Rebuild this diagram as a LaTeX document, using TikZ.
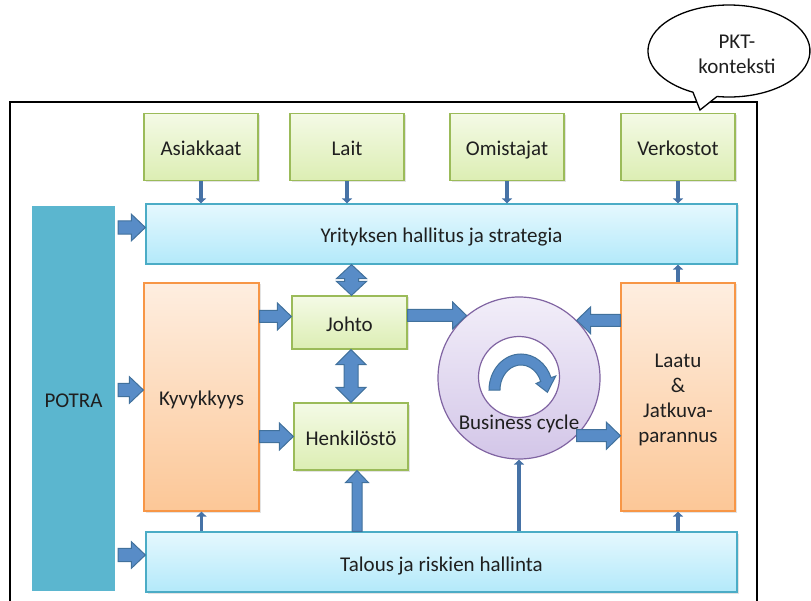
\documentclass[tikz,border=0pt]{standalone}
\usepackage{fontspec}
\setmainfont{Carlito}
\usetikzlibrary{arrows.meta,shadows,calc}

\definecolor{greentop}{HTML}{F4FAE6}
\definecolor{greenbot}{HTML}{DCEEB3}
\definecolor{greenline}{HTML}{9BBB59}
\definecolor{bluetop}{HTML}{E5F8FE}
\definecolor{bluebot}{HTML}{B3E9FA}
\definecolor{blueline}{HTML}{4BACC6}
\definecolor{orangetop}{HTML}{FEEEE0}
\definecolor{orangebot}{HTML}{FCC797}
\definecolor{orangeline}{HTML}{F79646}
\definecolor{purpletop}{HTML}{F2EEF9}
\definecolor{purplebot}{HTML}{D3C6E8}
\definecolor{purpleline}{HTML}{8064A2}
\definecolor{potrafill}{HTML}{5BB6CF}
\definecolor{arrowfill}{HTML}{588CC7}
\definecolor{arrowline}{HTML}{41719C}
\definecolor{thinblue}{HTML}{4672A6}

\tikzset{
  lbl/.style={font=\fontsize{21}{25}\selectfont, text=black!88, align=center},
  oneline/.style={text height=22pt, text depth=4pt},
  box/.style={lbl, rectangle, line width=1.2pt, inner sep=0pt,
    drop shadow={opacity=0.22, shadow xshift=1.5pt, shadow yshift=-1.5pt}},
  greenbox/.style={box, oneline, draw=greenline, top color=greentop, bottom color=greenbot},
  bluebox/.style={box, oneline, draw=blueline, top color=bluetop, bottom color=bluebot},
  orangebox/.style={box, draw=orangeline, top color=orangetop, bottom color=orangebot},
  blockarrow/.style={fill=arrowfill, draw=arrowline, line width=1pt, line join=miter},
  thinarrow/.style={draw=thinblue, line width=3.5pt, -{Triangle[width=10pt,length=5pt]}},
}

% horizontal block arrow: tail at x of #1, tip at #2 (height of #2 used);
% #3 shaft half-height, #4 head half-height, #5 signed head length
\newcommand\hblock[5]{%
  \draw[blockarrow] let \p1=(#1), \p2=(#2) in
    (\x1,\y2+#3) -- ({\x2-(#5)},\y2+#3) -- ({\x2-(#5)},\y2+#4) -- (\x2,\y2)
    -- ({\x2-(#5)},\y2-#4) -- ({\x2-(#5)},\y2-#3) -- (\x1,\y2-#3) -- cycle;}
% vertical block arrow: tail at y of #1, tip at #2 (x of #2 used)
\newcommand\vblock[5]{%
  \draw[blockarrow] let \p1=(#1), \p2=(#2) in
    (\x2+#3,\y1) -- (\x2+#3,{\y2-(#5)}) -- (\x2+#4,{\y2-(#5)}) -- (\x2,\y2)
    -- (\x2-#4,{\y2-(#5)}) -- (\x2-#3,{\y2-(#5)}) -- (\x2-#3,\y1) -- cycle;}
% vertical double-headed block arrow between an upper point #1 and a lower point #2
\newcommand\vdblock[5]{%
  \draw[blockarrow] let \p1=(#1), \p2=(#2) in
    (\x2,\y1) -- (\x2+#4,\y1-#5) -- (\x2+#3,\y1-#5) -- (\x2+#3,\y2+#5)
    -- (\x2+#4,\y2+#5) -- (\x2,\y2) -- (\x2-#4,\y2+#5) -- (\x2-#3,\y2+#5)
    -- (\x2-#3,\y1-#5) -- (\x2-#4,\y1-#5) -- cycle;}

\begin{document}
\begin{tikzpicture}[x=1pt,y=-1pt]
\useasboundingbox (0,0) rectangle (811,601);

% outer frame
\draw[line width=1.6pt] (10,102) rectangle (757,640);

% speech bubble
\draw[line width=1.3pt, fill=white]
  (717,96.5) arc[start angle=98.5, end angle=-243.6, x radius=81, y radius=46]
  -- (700,110) -- cycle;
\node[lbl] (pkt) at (737,54.5) {PKT-\\konteksti};

% stakeholder boxes
\node[greenbox, minimum width=114pt, minimum height=67pt] (asi) at (201,147) {Asiakkaat};
\node[greenbox, minimum width=114pt, minimum height=67pt] (lait) at (347,147) {Lait};
\node[greenbox, minimum width=114pt, minimum height=67pt] (omi) at (507,147) {Omistajat};
\node[greenbox, minimum width=114pt, minimum height=67pt] (verk) at (678,147) {Verkostot};

% wide bands
\node[bluebox, minimum width=591pt, minimum height=60pt] (yrit) at (441.5,234) {Yrityksen hallitus ja strategia};
\node[bluebox, minimum width=591pt, minimum height=60pt] (tal) at (441.5,562) {Talous ja riskien hallinta};

% side column
\node[lbl, oneline, rectangle, fill=potrafill, draw=white, line width=3pt, minimum width=86pt, minimum height=388pt,
  drop shadow={opacity=0.25, shadow xshift=1.5pt, shadow yshift=-1.5pt}] (potra) at (73.5,398.5) {POTRA};

% tall boxes
\node[orangebox, oneline, minimum width=115pt, minimum height=228pt] (kyv) at (201.5,397) {Kyvykkyys};
\node[orangebox, minimum width=114pt, minimum height=228pt] (laatu) at (678,397)
  {\raisebox{-3pt}[\height][\depth]{\begin{tabular}{@{}c@{}}Laatu\\\&\\Jatkuva-\\parannus\end{tabular}}};

% inner boxes
\node[greenbox, minimum width=115pt, minimum height=53pt] (johto) at (349.5,322.5) {Johto};
\node[greenbox, minimum width=114pt, minimum height=67pt] (henk) at (351,436.5) {Henkilöstö};

% business cycle ring
\node[circle, draw=purpleline, line width=1.2pt, top color=purpletop, bottom color=purplebot,
  minimum size=162pt, inner sep=0pt] (bc) at (519,378) {};
\node[circle, draw=purpleline, line width=1.2pt, fill=white, minimum size=81pt, inner sep=0pt] (bcin) at (519,377) {};
\node[lbl, oneline] (bclabel) at (519,420) {Business cycle};

% circular arrow inside the ring
\coordinate (cyc) at (521,390);
\draw[blockarrow]
  ([shift={(180:32 and 36)}]cyc) arc[start angle=180, end angle=340, x radius=32, y radius=36]
  -- ([shift={(340:37 and 41)}]cyc) -- ([shift={(5:26.5)}]cyc) -- ([shift={(340:16 and 19)}]cyc)
  -- ([shift={(340:21 and 25)}]cyc) arc[start angle=340, end angle=180, x radius=21, y radius=25] -- cycle;

% thin connectors
\draw[thinarrow] (asi.south) -- (asi.south |- yrit.north);
\draw[thinarrow] (lait.south) -- (lait.south |- yrit.north);
\draw[thinarrow] (omi.south) -- (omi.south |- yrit.north);
\draw[thinarrow] (verk.south) -- (verk.south |- yrit.north);
\draw[thinarrow] (laatu.north) -- (laatu.north |- yrit.south);
\draw[thinarrow] (kyv.south |- tal.north) -- (kyv.south);
\draw[thinarrow] (laatu.south |- tal.north) -- (laatu.south);
\draw[thinarrow] (bc.south |- tal.north) -- (bc.south);

% block arrows
\hblock{potra.east}{[yshift=6.5pt]yrit.west}{6.7pt}{13.3pt}{14pt}
\hblock{potra.east}{[yshift=7pt]kyv.west}{6.7pt}{13.3pt}{14pt}
\hblock{potra.east}{[yshift=7pt]tal.west}{6.7pt}{13.3pt}{14pt}
\hblock{kyv.east}{[yshift=6pt]johto.west}{6pt}{13.5pt}{14pt}
\hblock{kyv.east}{henk.west}{6pt}{13.5pt}{14pt}
\hblock{johto.east}{bc.130}{6pt}{13.5pt}{14pt}
\hblock{laatu.west}{bc.45}{6pt}{13.5pt}{-14pt}
\hblock{bc.-45}{laatu.west |- bc.-45}{6pt}{13.5pt}{14pt}
\vdblock{yrit.south}{[xshift=2pt]johto.north}{7pt}{15pt}{14pt}
\vdblock{johto.south}{henk.north}{7pt}{15pt}{15pt}
\vblock{tal.north}{[xshift=6pt]henk.south}{5pt}{11.5pt}{12pt}

\end{tikzpicture}
\end{document}
